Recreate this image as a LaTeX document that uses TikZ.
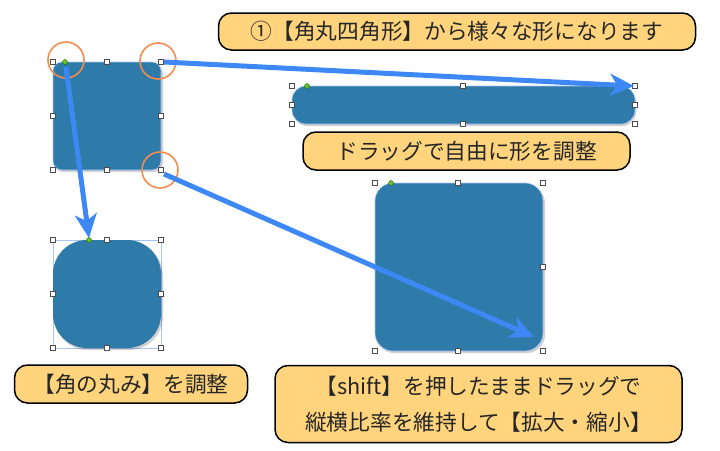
\documentclass[tikz,border=0pt]{standalone}
\usepackage{fontspec}
\setmainfont{Noto Sans CJK JP}
\usetikzlibrary{arrows.meta}
\definecolor{shapeblue}{RGB}{46,122,168}
\definecolor{labelfill}{RGB}{255,212,124}
\definecolor{ringorange}{RGB}{245,140,80}
\definecolor{arrowblue}{RGB}{62,136,245}
\definecolor{selblue}{RGB}{170,195,245}
\definecolor{dotgreen}{RGB}{110,190,40}
\tikzset{
  rshape/.style={fill=shapeblue, draw=selblue, line width=0.6pt, inner sep=0pt},
  selrect/.style={draw=selblue, line width=0.6pt},
  handle/.style={draw=black!70, fill=white, line width=0.7pt, minimum size=5pt, inner sep=0pt},
  greendot/.style={circle, fill=dotgreen, draw=green!40!black, line width=0.3pt, minimum size=5pt, inner sep=0pt},
  ring/.style={circle, draw=ringorange, line width=1.6pt, minimum size=36pt, inner sep=0pt},
  label/.style={draw=black, line width=1.5pt, fill=labelfill, rounded corners=13pt, inner sep=0pt, text=black!85, font=\fontsize{21.7}{36}\selectfont},
  bluearrow/.style={draw=arrowblue, line width=5pt, -{Stealth[length=24pt,width=22pt,inset=7pt]}},
}
\begin{document}
\begin{tikzpicture}[x=1pt,y=-1pt]
\useasboundingbox (0,0) rectangle (720,450);
\fill[white] (0,0) rectangle (720,450);

% ---- shape A (top-left square)
\fill[black, opacity=0.18, rounded corners=9pt] (54,64) rectangle (163,172);
\draw[rshape, rounded corners=9pt] (53,62) rectangle (161,170);
\foreach \p [count=\i] in {(53,62),(107,62),(161,62),(53,116),(161,116),(53,170),(107,170),(161,170)}
  \node[handle] (a\i) at \p {};
\node[greendot] (ag) at (65,62) {};

% ---- shape B (long bar)
\fill[black, opacity=0.18, rounded corners=14pt] (293,88) rectangle (636,126);
\draw[rshape, rounded corners=14pt] (292,86) rectangle (635,124);
\foreach \p [count=\i] in {(292,86),(463,86),(635,86),(292,105),(635,105),(292,124),(463,124),(635,124)}
  \node[handle] (b\i) at \p {};
\node[greendot] (bg) at (307,86) {};

% ---- shape C (rounder square)
\draw[selrect] (53,240) rectangle (161,348);
\fill[black, opacity=0.18, rounded corners=34pt] (54,242) rectangle (163,350);
\fill[shapeblue, rounded corners=34pt] (53,240) rectangle (161,348);
\foreach \p [count=\i] in {(53,240),(107,240),(161,240),(53,294),(161,294),(53,348),(107,348),(161,348)}
  \node[handle] (c\i) at \p {};
\node[greendot] (cg) at (89,240) {};

% ---- shape D (large square)
\fill[black, opacity=0.18, rounded corners=18pt] (376,185) rectangle (545,353);
\draw[rshape, rounded corners=18pt] (375,183) rectangle (543,351);
\foreach \p [count=\i] in {(375,183),(458,183),(543,183),(543,267),(375,351),(458,351),(543,351)}
  \node[handle] (d\i) at \p {};
\node[greendot] (dg) at (391,183) {};

% ---- orange rings
\node[ring] (r1) at (66,60) {};
\node[ring] (r2) at (158,61) {};
\node[ring] (r3) at (160,170) {};

% ---- arrows
\coordinate (s1) at (164,62);
\coordinate (e1) at (634,86);
\coordinate (s2) at (66,67);
\coordinate (e2) at (89,238);
\coordinate (s3) at (164,174);
\coordinate (e3) at (534,337);
\draw[bluearrow] (s1) -- (e1);
\draw[bluearrow] (s2) -- (e2);
\draw[bluearrow] (s3) -- (e3);

% ---- labels
\node[label, minimum width=477pt, minimum height=37pt] (l1) at (457,31.5) {①【角丸四角形】から様々な形になります};
\node[label, minimum width=327pt, minimum height=38pt] (l2) at (466.5,151) {ドラッグで自由に形を調整};
\node[label, minimum width=233pt, minimum height=38pt] (l3) at (131,384) {【角の丸み】を調整};
\node[label, minimum width=407pt, minimum height=77pt, align=center] (l4) at (478.5,404) {【shift】を押したままドラッグで\\縦横比率を維持して【拡大・縮小】};
\end{tikzpicture}
\end{document}
